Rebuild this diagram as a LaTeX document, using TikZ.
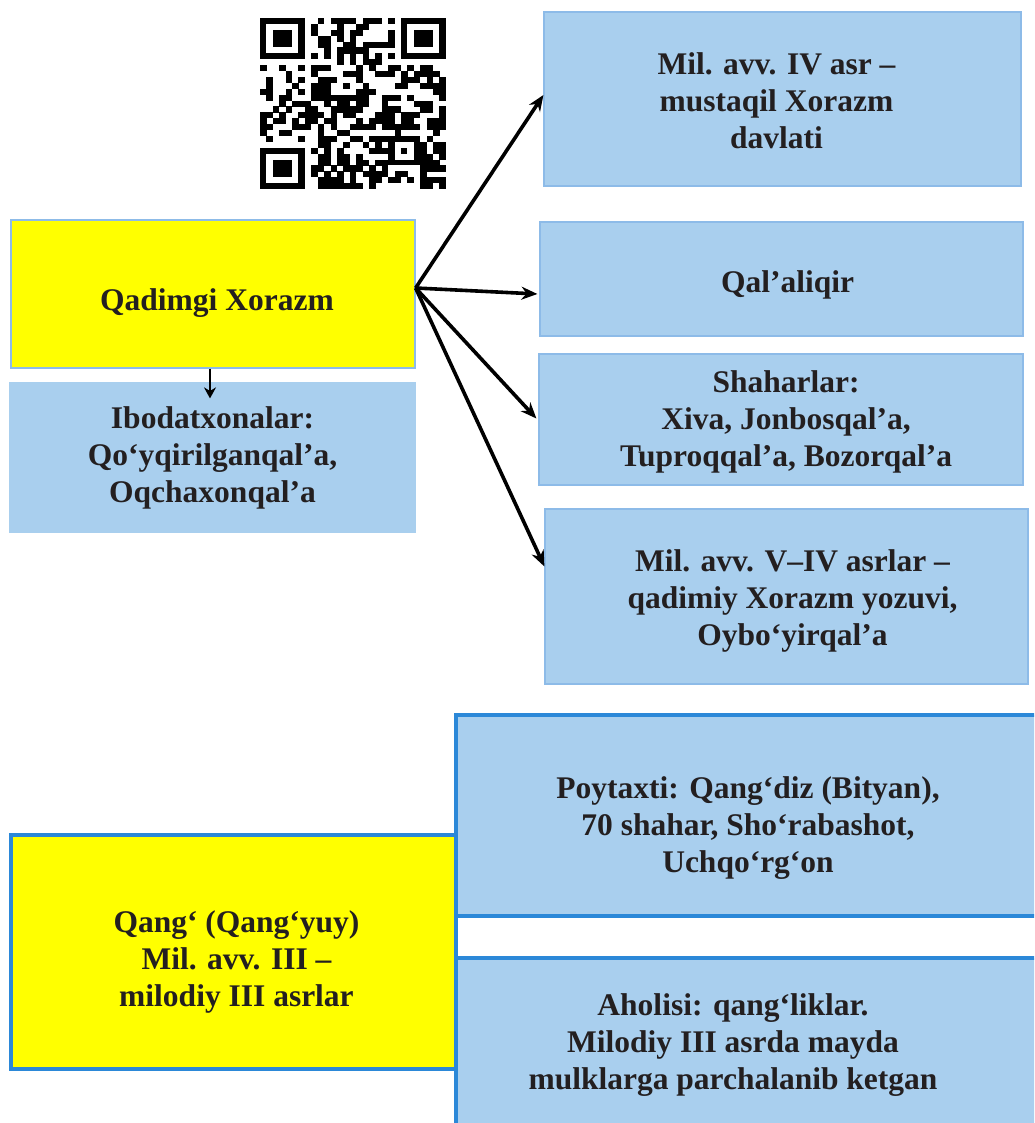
\documentclass[tikz,border=0pt]{standalone}
\usepackage{fontspec}
\setmainfont{Liberation Serif}
\usetikzlibrary{arrows.meta,calc}
\definecolor{lblue}{HTML}{A9CFEE}
\definecolor{thinb}{HTML}{8DBBE8}
\definecolor{thickb}{HTML}{2B88D8}
\definecolor{txtc}{HTML}{231F20}
\definecolor{yel}{HTML}{FFFF00}
\tikzset{
  txt/.style={text=txtc, font=\fontsize{31.5}{37}\selectfont\bfseries, align=center},
  box/.style={rectangle, inner sep=0pt, txt},
  ybox/.style={box, fill=yel, draw=thinb, line width=1.2pt},
  bbox/.style={box, fill=lblue, draw=thinb, line width=1.2pt},
  ybig/.style={box, fill=yel, draw=thickb, line width=4pt},
  bbig/.style={box, fill=lblue, draw=thickb, line width=4pt},
  arr/.style={-{Stealth[length=16pt,width=13pt]}, line width=3.6pt, black},
}
\begin{document}
\begin{tikzpicture}[x=1pt,y=-1pt]
\clip (0,0) rectangle (1034,1123);
\fill[white] (0,0) rectangle (1034,1123);

% QR code (approximation)
\begin{scope}[shift={(260,18)}, x=6.41pt, y=-5.9pt]
  \pgfmathsetseed{4213}
  \foreach \r in {0,...,28}{
    \foreach \c in {0,...,28}{
      \pgfmathtruncatemacro\ok{((\r<8 && \c<8) || (\r<8 && \c>20) || (\r>20 && \c<8) || (\r>19 && \r<25 && \c>19 && \c<25) || \r==6 || \c==6) ? 0 : 1}
      \pgfmathrandominteger{\v}{0}{1}
      \ifnum\ok=1 \ifnum\v=1
        \fill[black] (\c,\r) rectangle ++(1.03,1.03);
      \fi\fi
    }
  }
  \foreach \px/\py in {0/0,22/0,0/22}{
    \fill[black] (\px,\py) rectangle ++(7,7);
    \fill[white] (\px+1,\py+1) rectangle ++(5,5);
    \fill[black] (\px+2,\py+2) rectangle ++(3,3);
  }
  \fill[black] (20,20) rectangle ++(5,5);
  \fill[white] (21,21) rectangle ++(3,3);
  \fill[black] (22,22) rectangle ++(1,1);
  \foreach \k in {8,10,...,20}{
    \fill[black] (\k,6) rectangle ++(1.03,1.03);
    \fill[black] (6,\k) rectangle ++(1.03,1.03);
  }
\end{scope}

% top part
\node[ybox, minimum width=404pt, minimum height=148pt,
  label={[txt, yshift=-9pt, xshift=4pt]center:Qadimgi Xorazm}] (q1) at (213,294) {};
\node[bbox, draw=lblue, minimum width=405pt, minimum height=149pt] (ib) at (212.5,457.5)
  {Ibodatxonalar:\\Qo‘yqirilganqal’a,\\Oqchaxonqal’a};

\node[bbox, minimum width=477pt, minimum height=174pt,
  label={[txt, yshift=-2pt, xshift=-6pt]center:{Mil. avv. IV asr –\\mustaqil Xorazm\\davlati}}] (r1) at (782.5,99) {};
\node[bbox, minimum width=483pt, minimum height=114pt,
  label={[txt, yshift=-6pt, xshift=6pt]center:Qal’aliqir}] (r2) at (781.5,279) {};
\node[bbox, minimum width=484pt, minimum height=131pt,
  label={[txt, yshift=-2pt, xshift=5pt]center:{Shaharlar:\\Xiva, Jonbosqal’a,\\Tuproqqal’a, Bozorqal’a}}] (r3) at (781,419.5) {};
\node[bbox, minimum width=483pt, minimum height=175pt,
  label={[txt, yshift=-4pt, xshift=6pt]center:{Mil. avv. V–IV asrlar –\\qadimiy Xorazm yozuvi,\\Oybo‘yirqal’a}}] (r4) at (786.5,596.5) {};

\coordinate (hub) at ([yshift=6pt]q1.east);
\draw[arr] (hub) -- ([yshift=4pt]r1.west);
\draw[arr] (hub) -- ([yshift=-15pt,xshift=-2pt]r2.west);
\draw[arr] (hub) -- ([yshift=1pt,xshift=-2pt]r3.west);
\draw[arr] (hub) -- ([yshift=30pt]r4.west);
\draw[-{Stealth[length=11pt,width=12pt]}, line width=2.6pt] ([xshift=-3pt]q1.south) -- ([xshift=-2.5pt,yshift=-16pt]ib.north);

% bottom part
\node[bbig, minimum width=584pt, minimum height=201pt,
  label={[txt, yshift=-13pt]center:{Poytaxti: Qang‘diz (Bityan),\\70 shahar, Sho‘rabashot,\\Uchqo‘rg‘on}}] (pa) at (748,815.5) {};
\node[bbig, minimum width=584pt, minimum height=182pt,
  label={[txt, yshift=4pt, xshift=-15pt]center:{Aholisi: qang‘liklar.\\Milodiy III asrda mayda\\mulklarga parchalanib ketgan}}] (pb) at (748,1049) {};
\node[ybig, minimum width=445pt, minimum height=234pt,
  label={[txt, yshift=-10pt, xshift=3pt]center:{Qang‘ (Qang‘yuy)\\Mil. avv. III –\\milodiy III asrlar}}] (q2) at (233.5,952) {};
\end{tikzpicture}
\end{document}
